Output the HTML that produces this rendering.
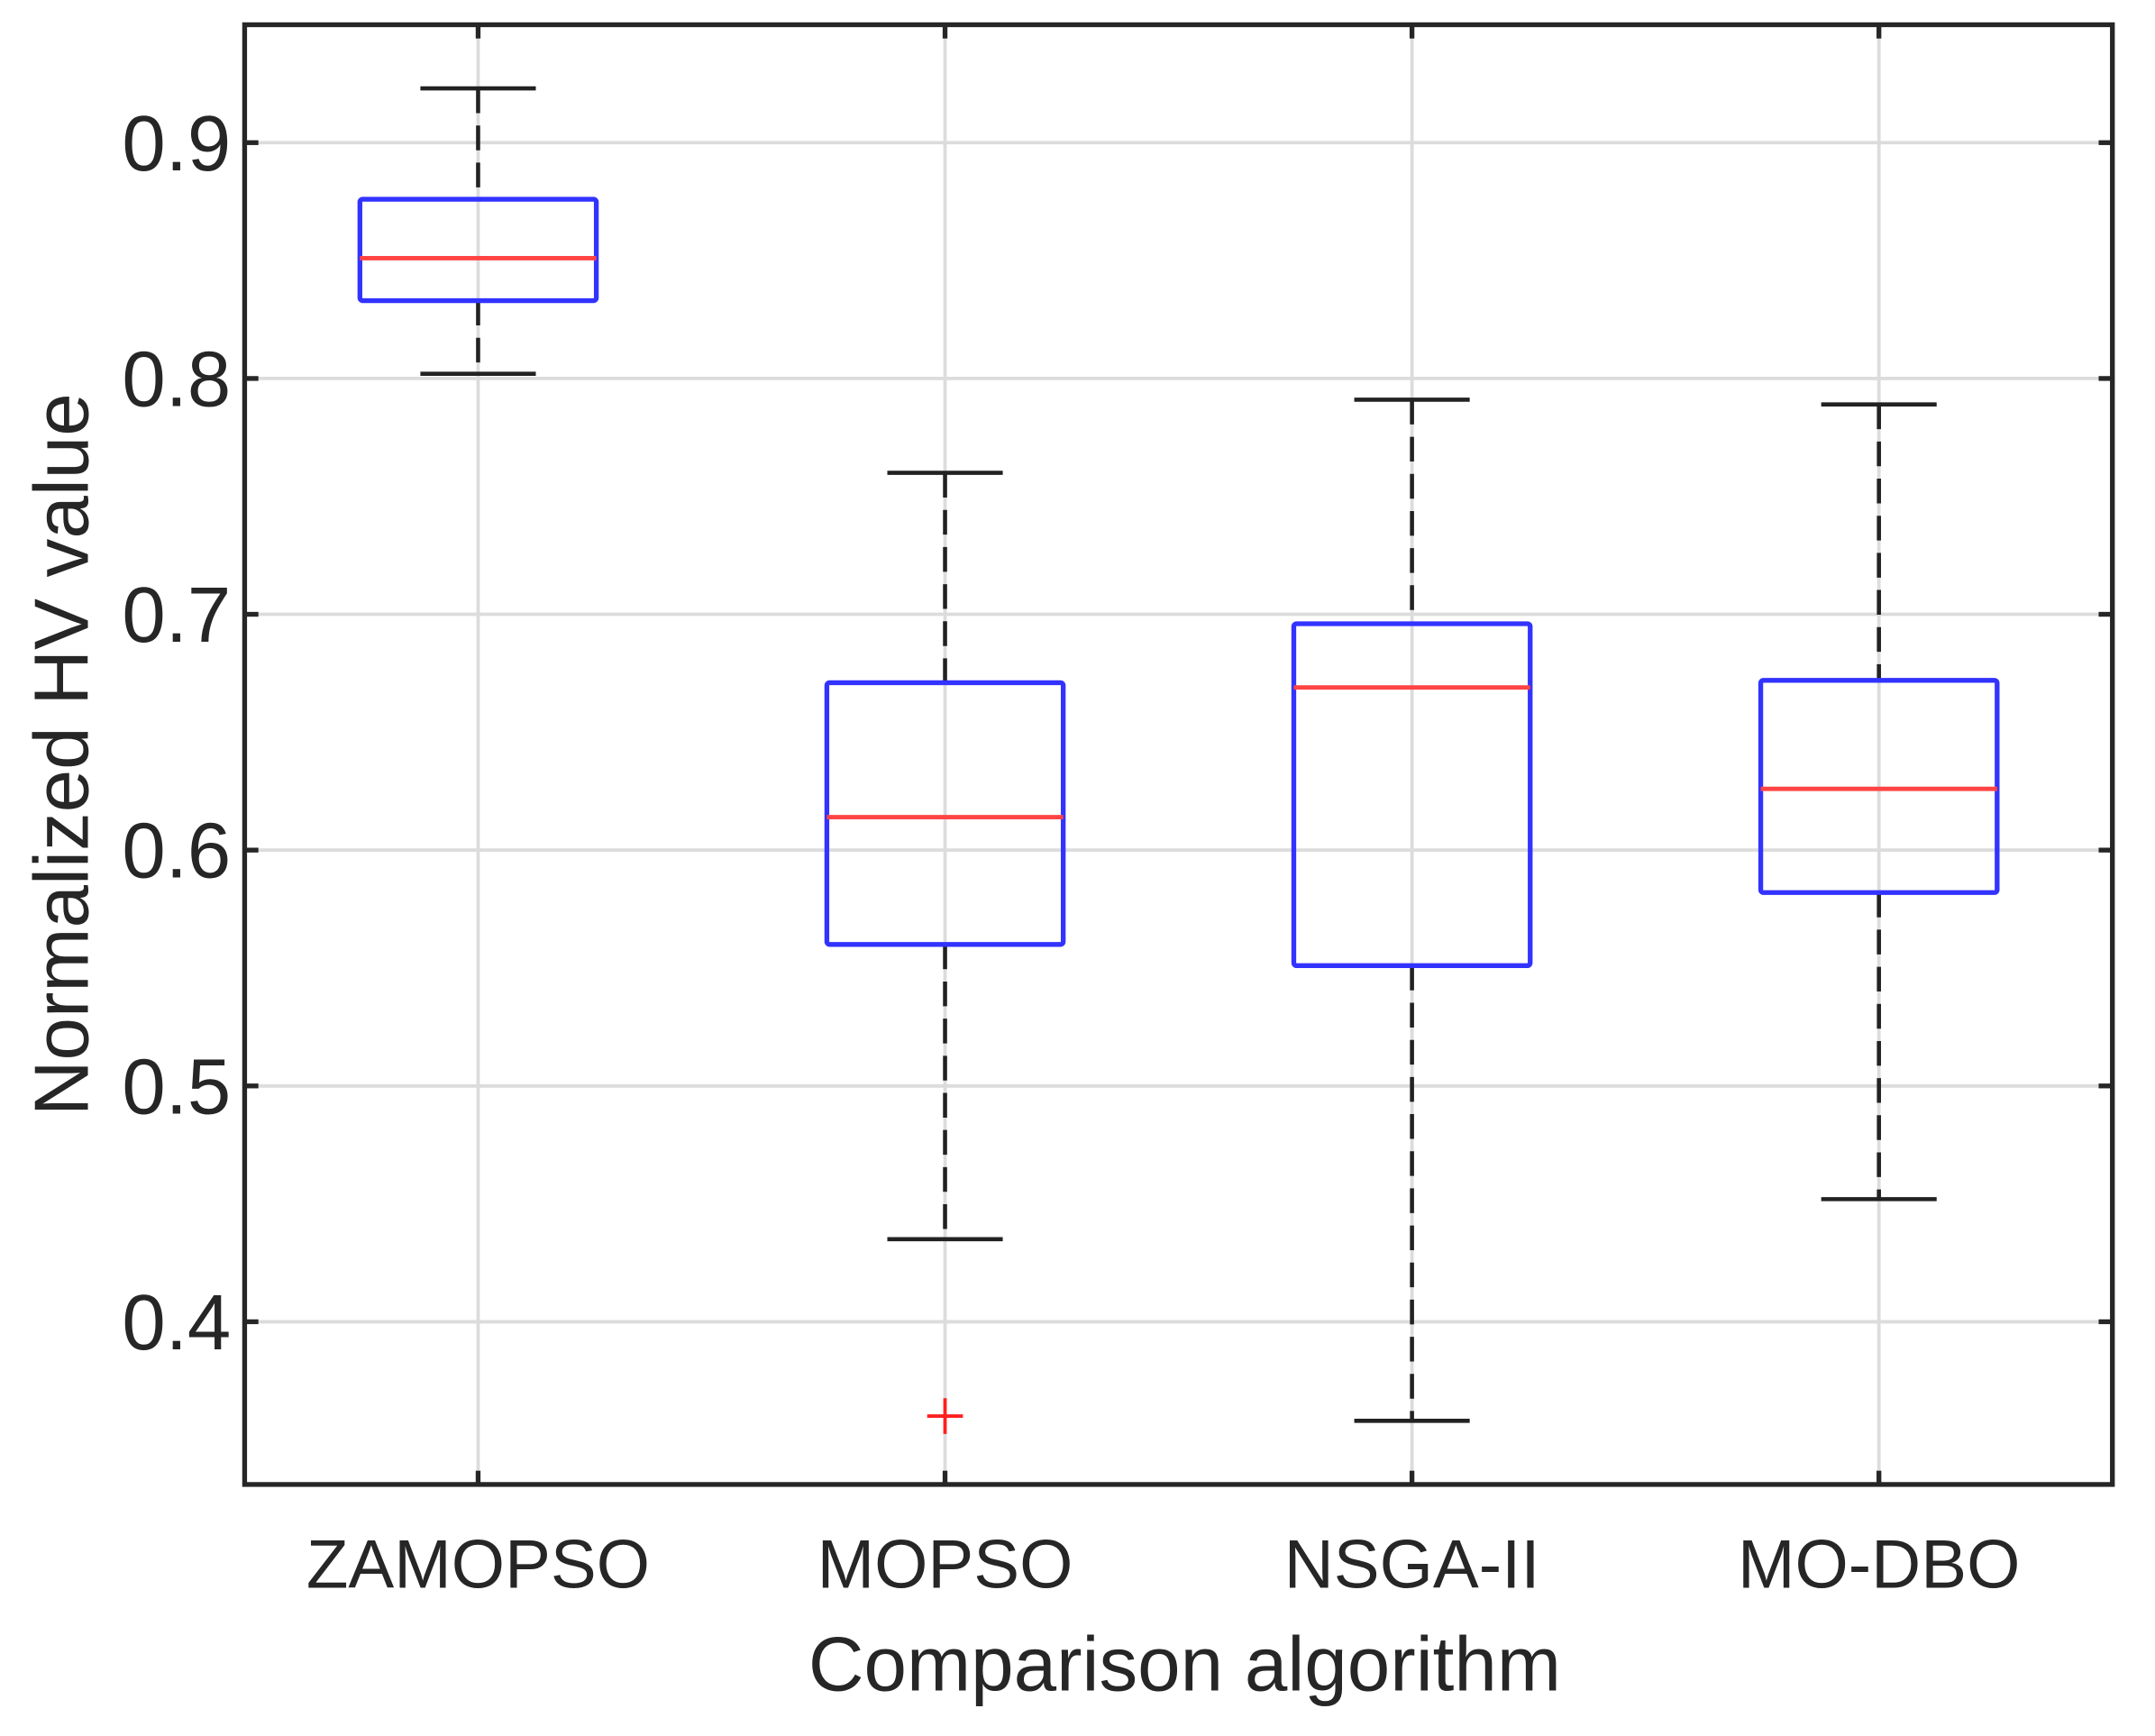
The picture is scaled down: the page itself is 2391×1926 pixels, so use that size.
<!DOCTYPE html>
<html><head><meta charset="utf-8"><style>html,body{margin:0;padding:0;background:#fff}svg{display:block}</style></head>
<body>
<svg id="chart" width="2391" height="1926" viewBox="0 0 1568 1263" preserveAspectRatio="none" xmlns="http://www.w3.org/2000/svg" font-family="Liberation Sans, Arial, sans-serif"></svg>
<script>
const categories = ["ZAMOPSO","MOPSO","NSGA-II","MO-DBO"];
const whiskerHigh = [0.923, 0.760, 0.791, 0.789];
const q3 = [0.876, 0.671, 0.696, 0.672];
const medians = [0.851, 0.614, 0.669, 0.626];
const q1 = [0.833, 0.560, 0.551, 0.582];
const whiskerLow = [0.802, 0.435, 0.358, 0.452];
const outliers = [[], [0.360], [], []];
const yTicks = [0.4, 0.5, 0.6, 0.7, 0.8, 0.9];
const yTickLabels = ["0.4","0.5","0.6","0.7","0.8","0.9"];

const L=178,R=1537,T=18,B=1080, yMin=0.331, yMax=0.950, xMin=0.5, xMax=4.5;
const sx=v=>L+(v-xMin)/(xMax-xMin)*(R-L);
const sy=v=>B-(v-yMin)/(yMax-yMin)*(B-T);
const svg=document.getElementById('chart');
const NS='http://www.w3.org/2000/svg';
function mk(tag,attrs,parent){const e=document.createElementNS(NS,tag);for(const k in attrs)e.setAttribute(k,attrs[k]);(parent||svg).appendChild(e);return e;}

yTicks.forEach((t,i)=>{
  const g=mk('line',{x1:L,x2:R,y1:sy(t),y2:sy(t),stroke:'#dcdcdc','stroke-width':2.5});
  
  
});
categories.forEach((c,i)=>{
  const g=mk('line',{x1:sx(i+1),x2:sx(i+1),y1:T,y2:B,stroke:'#dcdcdc','stroke-width':2.5});
  
  
});

const hw=86, cw=42;
categories.forEach((c,i)=>{
  const x=sx(i+1);
  const grp=mk('g',{});
  
  
  mk('line',{x1:x,x2:x,y1:sy(whiskerHigh[i]),y2:sy(q3[i]),stroke:'#222','stroke-width':3,'stroke-dasharray':'18 9'},grp);
  mk('line',{x1:x,x2:x,y1:sy(q1[i]),y2:sy(whiskerLow[i]),stroke:'#222','stroke-width':3,'stroke-dasharray':'18 9'},grp);
  mk('line',{x1:x-cw,x2:x+cw,y1:sy(whiskerHigh[i]),y2:sy(whiskerHigh[i]),stroke:'#222','stroke-width':3},grp);
  mk('line',{x1:x-cw,x2:x+cw,y1:sy(whiskerLow[i]),y2:sy(whiskerLow[i]),stroke:'#222','stroke-width':3},grp);
  mk('rect',{x:x-hw,y:sy(q3[i]),width:2*hw,height:sy(q1[i])-sy(q3[i]),fill:'none',stroke:'#3333ff','stroke-width':3.5,rx:2},grp);
  mk('line',{x1:x-hw,x2:x+hw,y1:sy(medians[i]),y2:sy(medians[i]),stroke:'#ff4444','stroke-width':3.2},grp);
  outliers[i].forEach(o=>{
    const p=mk('path',{d:`M${x-13},${sy(o)}H${x+13}M${x},${sy(o)-13}V${sy(o)+13}`,stroke:'#ff2020','stroke-width':2.5,fill:'none'},grp);
    
    
  });
});

const frame=mk('rect',{x:L,y:T,width:R-L,height:B-T,fill:'none',stroke:'#262626','stroke-width':3.5});



yTicks.forEach((t,i)=>{
  const y=sy(t);
  mk('line',{x1:L,x2:L+10,y1:y,y2:y,stroke:'#262626','stroke-width':3.5});
  mk('line',{x1:R-10,x2:R,y1:y,y2:y,stroke:'#262626','stroke-width':3.5});
  const tx=mk('text',{x:L-10,y:y+20,'text-anchor':'end','font-size':57,fill:'#262626'});
  tx.textContent=yTickLabels[i];
  
  
});
categories.forEach((c,i)=>{
  const x=sx(i+1);
  mk('line',{x1:x,x2:x,y1:B-10,y2:B,stroke:'#262626','stroke-width':3.5});
  mk('line',{x1:x,x2:x,y1:T,y2:T+10,stroke:'#262626','stroke-width':3.5});
  const tx=mk('text',{x:x,y:1155,'text-anchor':'middle','font-size':50,fill:'#262626'});
  tx.textContent=c;
  
  
});

const xl=mk('text',{x:862,y:1230,'text-anchor':'middle','font-size':56,fill:'#262626'});
xl.textContent='Comparison algorithm';


const yl=mk('text',{x:0,y:0,'text-anchor':'middle','font-size':56,fill:'#262626',transform:`translate(64,549) rotate(-90)`});
yl.textContent='Normalized HV value';


</script>
</body></html>
